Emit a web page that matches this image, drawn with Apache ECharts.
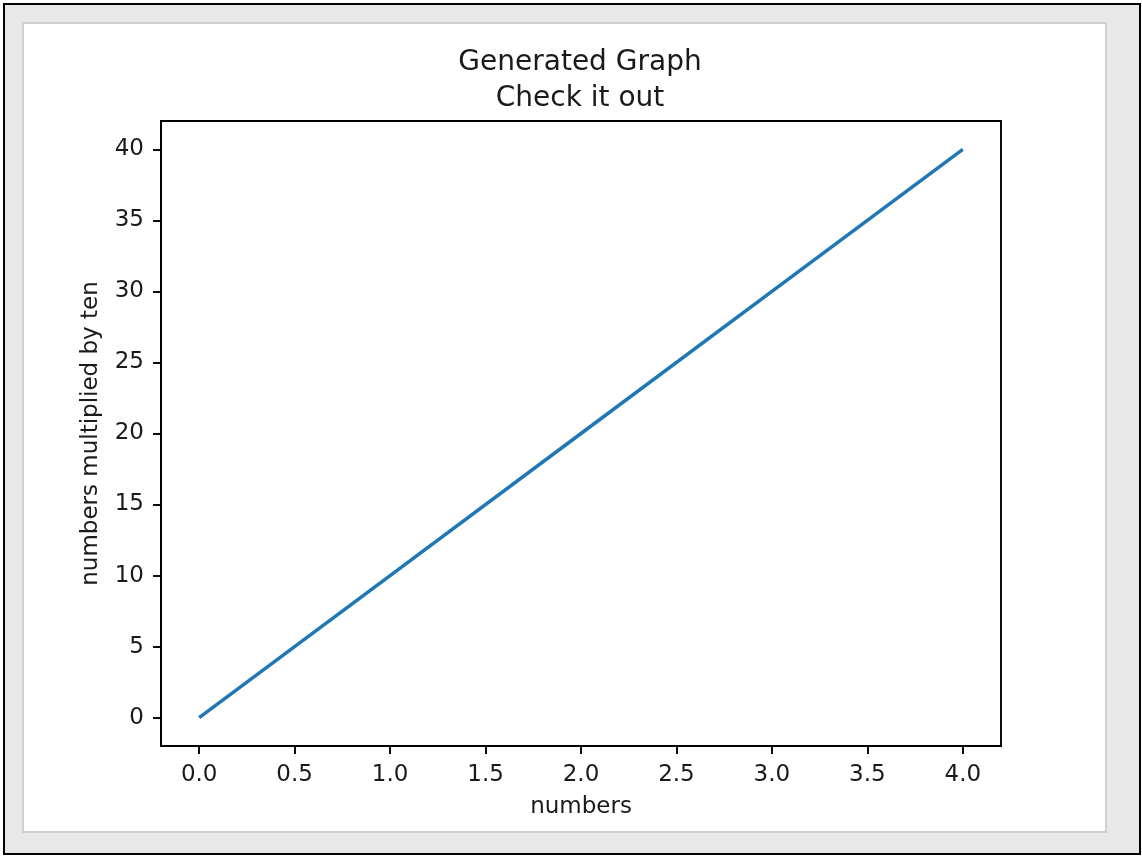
<!DOCTYPE html>
<html>
<head>
<meta charset="utf-8">
<script src="https://cdn.jsdelivr.net/npm/echarts@6/dist/echarts.min.js"></script>
<style>
  html, body { margin: 0; padding: 0; background: #fff; }
  .outer {
    position: absolute; left: 3px; top: 3px; width: 1134px; height: 848px;
    border: 2px solid #000; background: #e8e8e8;
  }
  .inner {
    position: absolute; left: 22px; top: 22px; width: 1085px; height: 811px;
    border: 2px solid #cfcfcf; background: #fff; box-sizing: border-box;
  }
  #chart { position: absolute; left: 0; top: 0; width: 1142px; height: 857px; }
</style>
</head>
<body>
<div class="outer"></div>
<div class="inner"></div>
<div id="chart"></div>
<script>
  // data
  var xValues = [0, 1, 2, 3, 4];
  var yValues = [0, 10, 20, 30, 40];
  var xTicks = [0, 0.5, 1, 1.5, 2, 2.5, 3, 3.5, 4];
  var yTicks = [0, 5, 10, 15, 20, 25, 30, 35, 40];

  var font = "'DejaVu Sans', sans-serif";
  var tickStyle = { show: true, length: 8, inside: false, lineStyle: { color: '#000', width: 1.9 } };
  var lineStyle = { show: true, onZero: false, lineStyle: { color: '#000', width: 1.9 } };

  var chart = echarts.init(document.getElementById('chart'));
  chart.setOption({
    animation: false,
    title: {
      text: 'Generated Graph\nCheck it out',
      left: 575,
      textAlign: 'center',
      top: 40,
      textStyle: { fontFamily: font, fontSize: 28, fontWeight: 'normal', color: '#1a1a1a', lineHeight: 36 }
    },
    grid: {
      left: 161, right: 141, top: 121, bottom: 111,
      show: true, borderColor: '#000', borderWidth: 1.9, backgroundColor: 'transparent'
    },
    xAxis: {
      type: 'value',
      min: -0.2, max: 4.2,
      name: 'numbers',
      nameLocation: 'middle',
      nameGap: 50,
      nameTextStyle: { fontFamily: font, fontSize: 23, color: '#1a1a1a' },
      axisLine: lineStyle,
      splitLine: { show: false },
      axisTick: Object.assign({ customValues: xTicks }, tickStyle),
      axisLabel: {
        customValues: xTicks,
        margin: 18,
        fontFamily: font, fontSize: 23, color: '#1a1a1a',
        formatter: function (v) { return v.toFixed(1); }
      }
    },
    yAxis: {
      type: 'value',
      min: -2, max: 42,
      name: 'numbers multiplied by ten',
      nameLocation: 'middle',
      nameGap: 58,
      nameTextStyle: { fontFamily: font, fontSize: 23, color: '#1a1a1a' },
      axisLine: lineStyle,
      splitLine: { show: false },
      axisTick: Object.assign({ customValues: yTicks }, tickStyle),
      axisLabel: {
        customValues: yTicks,
        margin: 17,
        fontFamily: font, fontSize: 23, color: '#1a1a1a'
      }
    },
    series: [{
      type: 'line',
      data: xValues.map(function (x, i) { return [x, yValues[i]]; }),
      showSymbol: false,
      lineStyle: { color: '#1f77b4', width: 3.5 }
    }]
  });
</script>
</body>
</html>
